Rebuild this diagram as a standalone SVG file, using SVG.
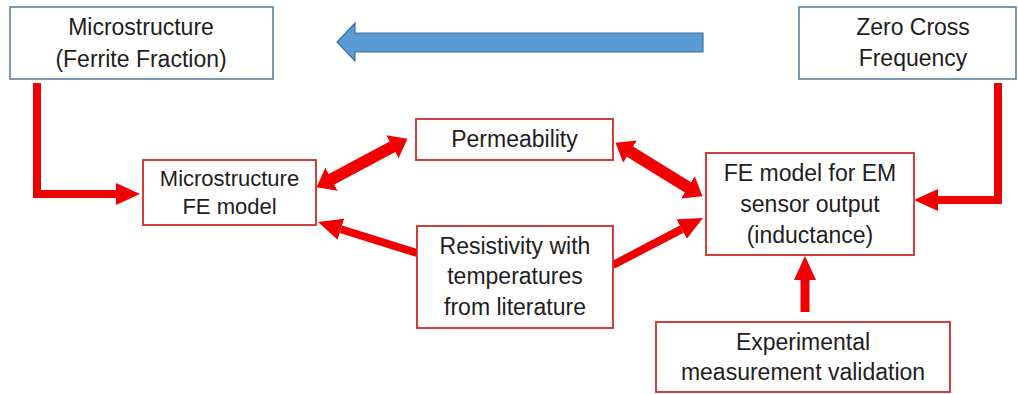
<svg xmlns="http://www.w3.org/2000/svg" width="1018" height="394" viewBox="0 0 1018 394">
<style>
.bb{fill:#fff;stroke:#5b7fa3;stroke-width:1.6}
.rb{fill:#fff;stroke:#cc2a2a;stroke-width:1.8}
text{font-family:"Liberation Sans",Arial,sans-serif;font-size:23px;fill:#1e1e1e;text-anchor:middle}
.sm{font-size:22px}
.ra{fill:none;stroke:#f00000;stroke-width:8;marker-end:url(#h)}
.rd{fill:none;stroke:#f00000;stroke-width:12;marker-start:url(#h2);marker-end:url(#h2)}
</style>
<defs>
<marker id="h" markerUnits="userSpaceOnUse" markerWidth="24" markerHeight="24" viewBox="0 -12 24 24" refX="0" refY="0" orient="auto-start-reverse">
<path d="M0,-11 L24,0 L0,11 z" fill="#f00000"/>
</marker>
<marker id="h2" markerUnits="userSpaceOnUse" markerWidth="18" markerHeight="28" viewBox="0 -14 18 28" refX="0.5" refY="0" orient="auto-start-reverse">
<path d="M0,-13 L17,0 L0,13 z" fill="#f00000"/>
</marker>
</defs>
<g id="connectors">
<path d="M703,33 L355,33 L355,23 L337,42 L355,61 L355,52 L703,52 z" fill="#5b9bd5" stroke="#41719c" stroke-width="1.2"/>
<polyline class="ra" points="37,83 37,194 116,194"/>
<polyline class="ra" points="998,83 998,200 938,200"/>
<line class="ra" x1="805" y1="312" x2="805" y2="280" style="stroke-width:9"/>
<line class="rd" x1="331.1" y1="179.5" x2="392.9" y2="146.5"/>
<line class="rd" x1="629.6" y1="151.4" x2="688.4" y2="187.6"/>
<line class="ra" x1="417" y1="253" x2="340.9" y2="229.2"/>
<line class="ra" x1="613" y1="265" x2="681.7" y2="229.1"/>
</g>
<g id="microstructure">
<rect class="bb" x="10" y="7" width="263" height="72"/>
<text x="141" y="35">Microstructure</text>
<text x="141" y="67">(Ferrite Fraction)</text>
</g>
<g id="zero-cross">
<rect class="bb" x="799" y="7" width="217" height="72"/>
<text x="913" y="35">Zero Cross</text>
<text x="913" y="66">Frequency</text>
</g>
<g id="microstructure-fe">
<rect class="rb" x="143" y="160" width="173" height="65"/>
<text class="sm" x="229.5" y="186">Microstructure</text>
<text class="sm" x="229.5" y="214">FE model</text>
</g>
<g id="permeability">
<rect class="rb" x="416" y="119" width="197" height="41"/>
<text x="514.5" y="147">Permeability</text>
</g>
<g id="resistivity">
<rect class="rb" x="417" y="226" width="196" height="102"/>
<text x="515" y="254">Resistivity with</text>
<text x="515" y="284">temperatures</text>
<text x="515" y="315">from literature</text>
</g>
<g id="fe-model-em">
<rect class="rb" x="706" y="153" width="208" height="102"/>
<text x="810" y="181">FE model for EM</text>
<text x="810" y="212">sensor output</text>
<text x="810" y="243">(inductance)</text>
</g>
<g id="experimental">
<rect class="rb" x="656" y="322" width="294" height="70"/>
<text x="803" y="350">Experimental</text>
<text x="803" y="380">measurement validation</text>
</g>
</svg>
